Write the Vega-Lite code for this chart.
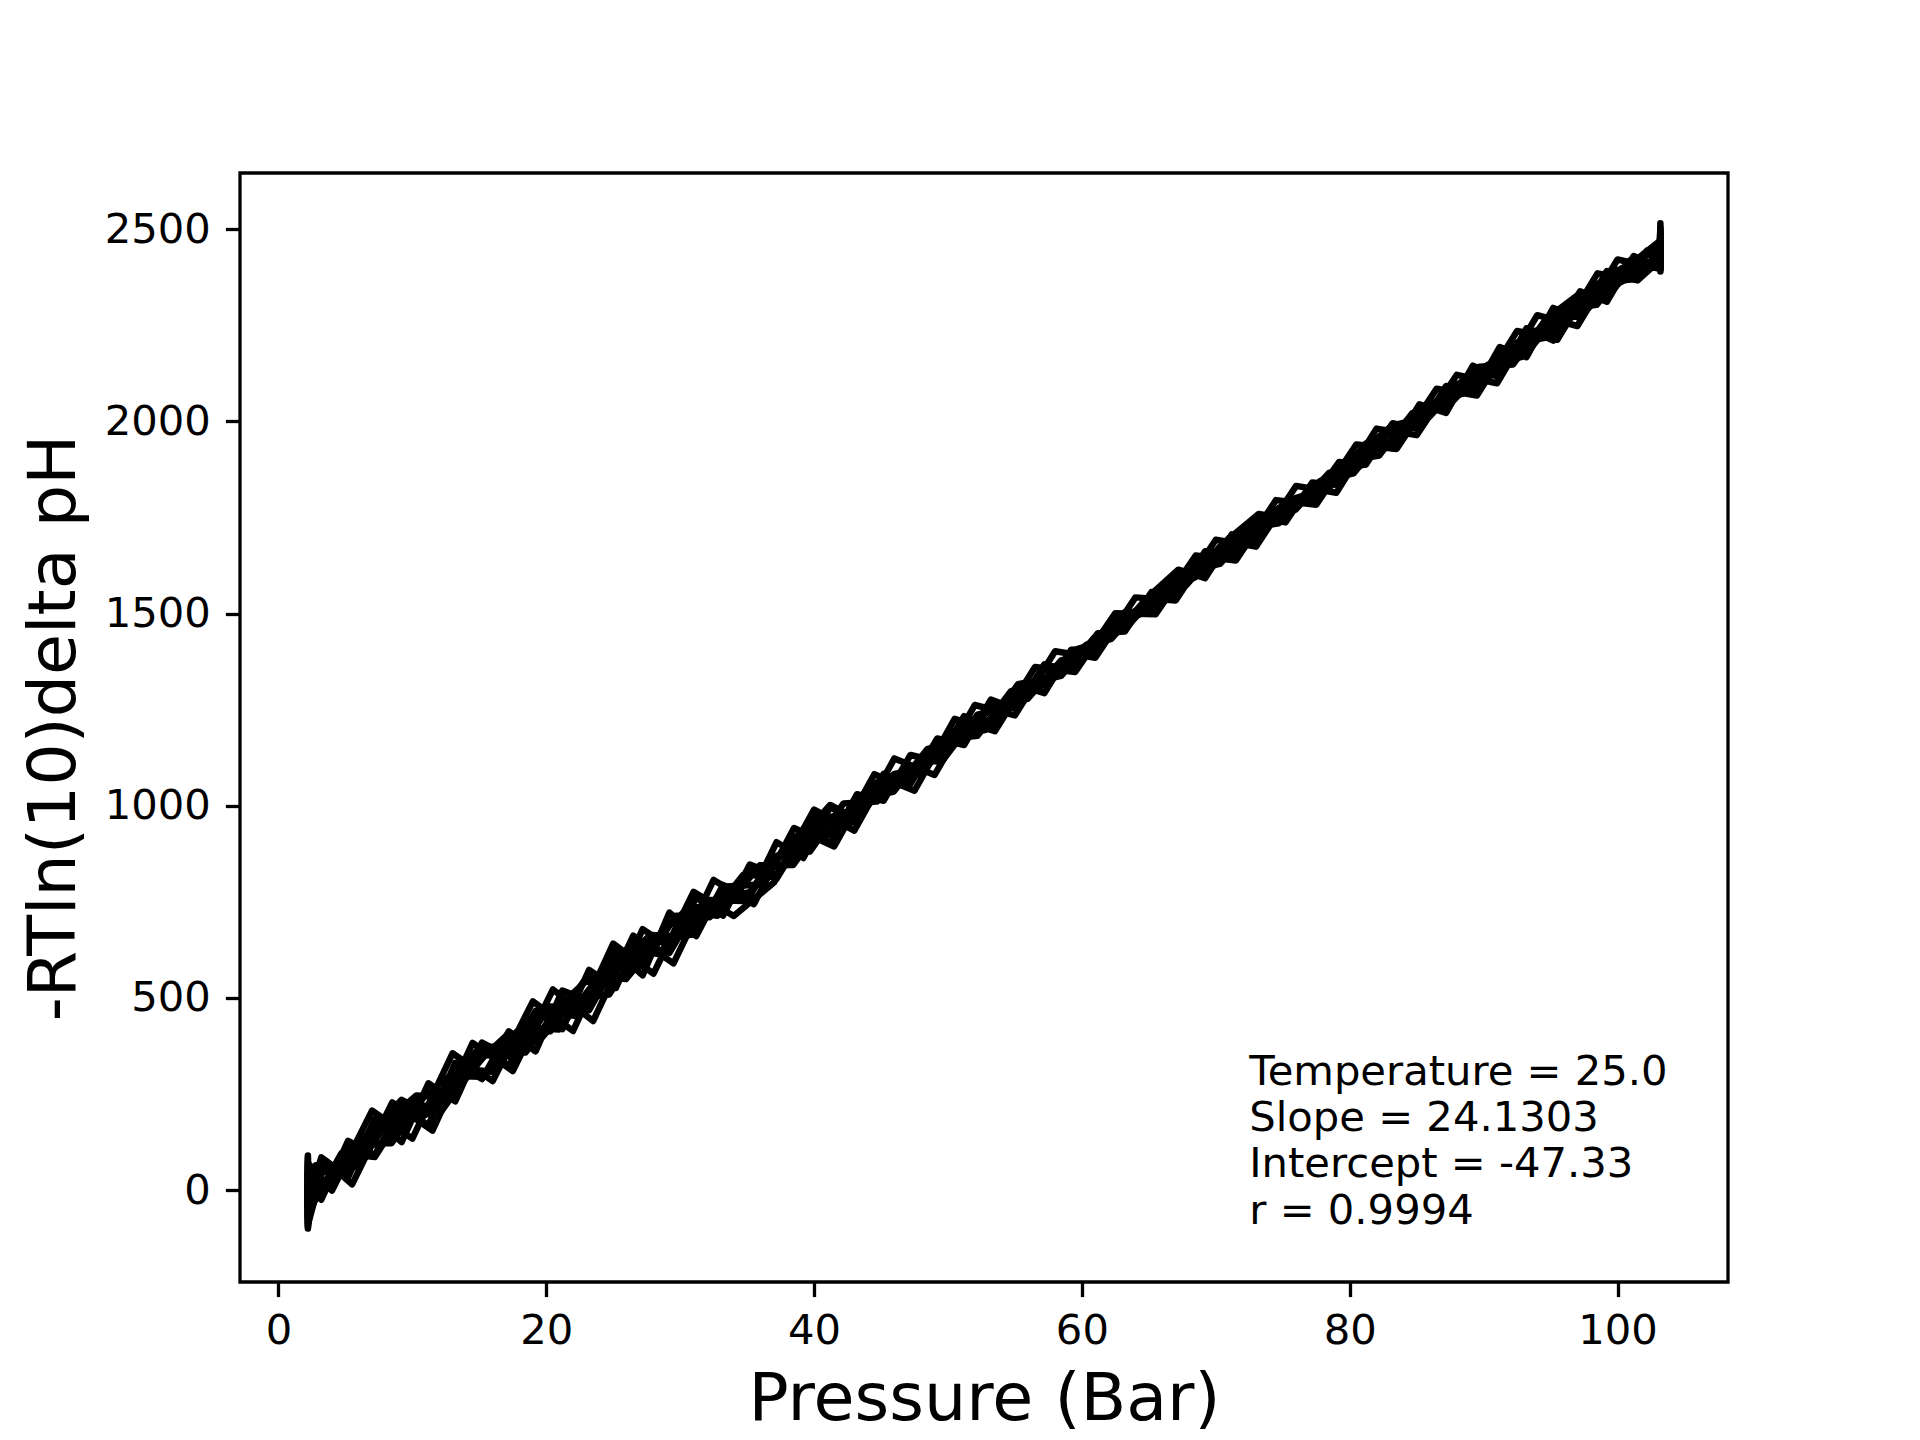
{
  "$schema": "https://vega.github.io/schema/vega-lite/v6.json",
  "autosize": "none",
  "width": 1488,
  "height": 1109,
  "padding": {"left": 240, "top": 173, "right": 192, "bottom": 158},
  "background": "white",
  "datasets": {
    "runs": [
      {"run": "A", "p": 2.2, "v": 85}, {"run": "A", "p": 2.2, "v": -60}, {"run": "A", "p": 4.7, "v": 96}, {"run": "A", "p": 7.2, "v": 86},
      {"run": "A", "p": 9.7, "v": 222}, {"run": "A", "p": 12.2, "v": 217}, {"run": "A", "p": 14.7, "v": 352}, {"run": "A", "p": 17.2, "v": 348},
      {"run": "A", "p": 19.7, "v": 468}, {"run": "A", "p": 22.2, "v": 453}, {"run": "A", "p": 24.7, "v": 579}, {"run": "A", "p": 27.2, "v": 584},
      {"run": "A", "p": 29.7, "v": 714}, {"run": "A", "p": 32.2, "v": 710}, {"run": "A", "p": 34.7, "v": 820}, {"run": "A", "p": 37.2, "v": 818},
      {"run": "A", "p": 39.7, "v": 951}, {"run": "A", "p": 42.2, "v": 956}, {"run": "A", "p": 44.7, "v": 1061}, {"run": "A", "p": 47.2, "v": 1067},
      {"run": "A", "p": 49.7, "v": 1172}, {"run": "A", "p": 52.2, "v": 1182}, {"run": "A", "p": 54.7, "v": 1298}, {"run": "A", "p": 57.2, "v": 1313},
      {"run": "A", "p": 59.7, "v": 1408}, {"run": "A", "p": 62.2, "v": 1434}, {"run": "A", "p": 64.7, "v": 1534}, {"run": "A", "p": 67.2, "v": 1559},
      {"run": "A", "p": 69.7, "v": 1660}, {"run": "A", "p": 72.2, "v": 1675}, {"run": "A", "p": 74.7, "v": 1770}, {"run": "A", "p": 77.2, "v": 1796},
      {"run": "A", "p": 79.7, "v": 1896}, {"run": "A", "p": 82.2, "v": 1911}, {"run": "A", "p": 84.7, "v": 2022}, {"run": "A", "p": 87.2, "v": 2037},
      {"run": "A", "p": 89.7, "v": 2142}, {"run": "A", "p": 92.2, "v": 2148}, {"run": "A", "p": 94.7, "v": 2268}, {"run": "A", "p": 97.2, "v": 2273},
      {"run": "A", "p": 99.7, "v": 2393}, {"run": "A", "p": 102.2, "v": 2399}, {"run": "A", "p": 103.2, "v": 2400}, {"run": "A", "p": 103.2, "v": 2505},

      {"run": "B", "p": 2.2, "v": -95}, {"run": "B", "p": 2.2, "v": 40}, {"run": "B", "p": 4.7, "v": 56}, {"run": "B", "p": 7.2, "v": 171},
      {"run": "B", "p": 9.7, "v": 197}, {"run": "B", "p": 12.2, "v": 207}, {"run": "B", "p": 14.7, "v": 327}, {"run": "B", "p": 17.2, "v": 408},
      {"run": "B", "p": 19.7, "v": 398}, {"run": "B", "p": 22.2, "v": 498}, {"run": "B", "p": 24.7, "v": 509}, {"run": "B", "p": 27.2, "v": 644},
      {"run": "B", "p": 29.7, "v": 659}, {"run": "B", "p": 32.2, "v": 755}, {"run": "B", "p": 34.7, "v": 752}, {"run": "B", "p": 37.2, "v": 870},
      {"run": "B", "p": 39.7, "v": 881}, {"run": "B", "p": 42.2, "v": 1006}, {"run": "B", "p": 44.7, "v": 1011}, {"run": "B", "p": 47.2, "v": 1102},
      {"run": "B", "p": 49.7, "v": 1122}, {"run": "B", "p": 52.2, "v": 1237}, {"run": "B", "p": 54.7, "v": 1258}, {"run": "B", "p": 57.2, "v": 1353},
      {"run": "B", "p": 59.7, "v": 1368}, {"run": "B", "p": 62.2, "v": 1464}, {"run": "B", "p": 64.7, "v": 1504}, {"run": "B", "p": 67.2, "v": 1604},
      {"run": "B", "p": 69.7, "v": 1620}, {"run": "B", "p": 72.2, "v": 1720}, {"run": "B", "p": 74.7, "v": 1735}, {"run": "B", "p": 77.2, "v": 1826},
      {"run": "B", "p": 79.7, "v": 1861}, {"run": "B", "p": 82.2, "v": 1956}, {"run": "B", "p": 84.7, "v": 1987}, {"run": "B", "p": 87.2, "v": 2072},
      {"run": "B", "p": 89.7, "v": 2092}, {"run": "B", "p": 92.2, "v": 2203}, {"run": "B", "p": 94.7, "v": 2218}, {"run": "B", "p": 97.2, "v": 2328},
      {"run": "B", "p": 99.7, "v": 2343}, {"run": "B", "p": 102.2, "v": 2444}, {"run": "B", "p": 103.2, "v": 2395}, {"run": "B", "p": 103.2, "v": 2470},

      {"run": "C", "p": 2.2, "v": 60}, {"run": "C", "p": 2.2, "v": -20}, {"run": "C", "p": 3.45, "v": -4}, {"run": "C", "p": 5.95, "v": 121},
      {"run": "C", "p": 8.45, "v": 122}, {"run": "C", "p": 10.95, "v": 247}, {"run": "C", "p": 13.45, "v": 267}, {"run": "C", "p": 15.95, "v": 373},
      {"run": "C", "p": 18.45, "v": 358}, {"run": "C", "p": 20.95, "v": 478}, {"run": "C", "p": 23.45, "v": 559}, {"run": "C", "p": 25.95, "v": 549},
      {"run": "C", "p": 28.45, "v": 654}, {"run": "C", "p": 30.95, "v": 665}, {"run": "C", "p": 33.45, "v": 790}, {"run": "C", "p": 35.95, "v": 795},
      {"run": "C", "p": 38.45, "v": 916}, {"run": "C", "p": 40.95, "v": 921}, {"run": "C", "p": 43.45, "v": 1016}, {"run": "C", "p": 45.95, "v": 1037},
      {"run": "C", "p": 48.45, "v": 1147}, {"run": "C", "p": 50.95, "v": 1172}, {"run": "C", "p": 53.45, "v": 1263}, {"run": "C", "p": 55.95, "v": 1278},
      {"run": "C", "p": 58.45, "v": 1378}, {"run": "C", "p": 60.95, "v": 1403}, {"run": "C", "p": 63.45, "v": 1499}, {"run": "C", "p": 65.95, "v": 1534},
      {"run": "C", "p": 68.45, "v": 1629}, {"run": "C", "p": 70.95, "v": 1645}, {"run": "C", "p": 73.45, "v": 1745}, {"run": "C", "p": 75.95, "v": 1770},
      {"run": "C", "p": 78.45, "v": 1866}, {"run": "C", "p": 80.95, "v": 1886}, {"run": "C", "p": 83.45, "v": 1991}, {"run": "C", "p": 85.95, "v": 2012},
      {"run": "C", "p": 88.45, "v": 2107}, {"run": "C", "p": 90.95, "v": 2122}, {"run": "C", "p": 93.45, "v": 2233}, {"run": "C", "p": 95.95, "v": 2248},
      {"run": "C", "p": 98.45, "v": 2358}, {"run": "C", "p": 100.95, "v": 2369}, {"run": "C", "p": 103.2, "v": 2420}, {"run": "C", "p": 103.2, "v": 2480},

      {"run": "D", "p": 2.2, "v": -75}, {"run": "D", "p": 2.2, "v": 25}, {"run": "D", "p": 3.45, "v": 56}, {"run": "D", "p": 5.95, "v": 61},
      {"run": "D", "p": 8.45, "v": 197}, {"run": "D", "p": 10.95, "v": 195}, {"run": "D", "p": 13.45, "v": 317}, {"run": "D", "p": 15.95, "v": 308},
      {"run": "D", "p": 18.45, "v": 423}, {"run": "D", "p": 20.95, "v": 418}, {"run": "D", "p": 23.45, "v": 534}, {"run": "D", "p": 25.95, "v": 624},
      {"run": "D", "p": 28.45, "v": 614}, {"run": "D", "p": 30.95, "v": 730}, {"run": "D", "p": 33.45, "v": 740}, {"run": "D", "p": 35.95, "v": 845},
      {"run": "D", "p": 38.45, "v": 846}, {"run": "D", "p": 40.95, "v": 971}, {"run": "D", "p": 43.45, "v": 976}, {"run": "D", "p": 45.95, "v": 1082},
      {"run": "D", "p": 48.45, "v": 1102}, {"run": "D", "p": 50.95, "v": 1212}, {"run": "D", "p": 53.45, "v": 1223}, {"run": "D", "p": 55.95, "v": 1318},
      {"run": "D", "p": 58.45, "v": 1338}, {"run": "D", "p": 60.95, "v": 1438}, {"run": "D", "p": 63.45, "v": 1469}, {"run": "D", "p": 65.95, "v": 1564},
      {"run": "D", "p": 68.45, "v": 1594}, {"run": "D", "p": 70.95, "v": 1695}, {"run": "D", "p": 73.45, "v": 1710}, {"run": "D", "p": 75.95, "v": 1800},
      {"run": "D", "p": 78.45, "v": 1826}, {"run": "D", "p": 80.95, "v": 1931}, {"run": "D", "p": 83.45, "v": 1946}, {"run": "D", "p": 85.95, "v": 2047},
      {"run": "D", "p": 88.45, "v": 2072}, {"run": "D", "p": 90.95, "v": 2167}, {"run": "D", "p": 93.45, "v": 2188}, {"run": "D", "p": 95.95, "v": 2293},
      {"run": "D", "p": 98.45, "v": 2303}, {"run": "D", "p": 100.95, "v": 2419}, {"run": "D", "p": 103.2, "v": 2410}, {"run": "D", "p": 103.2, "v": 2515},

      {"run": "E", "p": 2.2, "v": 20}, {"run": "E", "p": 2.2, "v": -100}, {"run": "E", "p": 2.8, "v": 65}, {"run": "E", "p": 5.3, "v": 61},
      {"run": "E", "p": 7.8, "v": 171}, {"run": "E", "p": 10.3, "v": 246}, {"run": "E", "p": 12.8, "v": 242}, {"run": "E", "p": 15.3, "v": 352},
      {"run": "E", "p": 17.8, "v": 357}, {"run": "E", "p": 20.3, "v": 478}, {"run": "E", "p": 22.8, "v": 473}, {"run": "E", "p": 25.3, "v": 588},
      {"run": "E", "p": 27.8, "v": 664}, {"run": "E", "p": 30.3, "v": 659}, {"run": "E", "p": 32.8, "v": 764}, {"run": "E", "p": 35.3, "v": 775},
      {"run": "E", "p": 37.8, "v": 890}, {"run": "E", "p": 40.3, "v": 975}, {"run": "E", "p": 42.8, "v": 956}, {"run": "E", "p": 45.3, "v": 1066},
      {"run": "E", "p": 47.8, "v": 1091}, {"run": "E", "p": 50.3, "v": 1186}, {"run": "E", "p": 52.8, "v": 1197}, {"run": "E", "p": 55.3, "v": 1302},
      {"run": "E", "p": 57.8, "v": 1337}, {"run": "E", "p": 60.3, "v": 1418}, {"run": "E", "p": 62.8, "v": 1453}, {"run": "E", "p": 65.3, "v": 1548},
      {"run": "E", "p": 67.8, "v": 1574}, {"run": "E", "p": 70.3, "v": 1674}, {"run": "E", "p": 72.8, "v": 1739}, {"run": "E", "p": 75.3, "v": 1755},
      {"run": "E", "p": 77.8, "v": 1845}, {"run": "E", "p": 80.3, "v": 1865}, {"run": "E", "p": 82.8, "v": 1971}, {"run": "E", "p": 85.3, "v": 1991},
      {"run": "E", "p": 87.8, "v": 2096}, {"run": "E", "p": 90.3, "v": 2112}, {"run": "E", "p": 92.8, "v": 2212}, {"run": "E", "p": 95.3, "v": 2232},
      {"run": "E", "p": 97.8, "v": 2338}, {"run": "E", "p": 100.3, "v": 2363}, {"run": "E", "p": 103.2, "v": 2430}, {"run": "E", "p": 103.2, "v": 2390},

      {"run": "F", "p": 2.2, "v": 50}, {"run": "F", "p": 2.2, "v": -45}, {"run": "F", "p": 2.8, "v": -15}, {"run": "F", "p": 5.3, "v": 111},
      {"run": "F", "p": 7.8, "v": 121}, {"run": "F", "p": 10.3, "v": 226}, {"run": "F", "p": 12.8, "v": 297}, {"run": "F", "p": 15.3, "v": 295},
      {"run": "F", "p": 17.8, "v": 412}, {"run": "F", "p": 20.3, "v": 413}, {"run": "F", "p": 22.8, "v": 543}, {"run": "F", "p": 25.3, "v": 541},
      {"run": "F", "p": 27.8, "v": 644}, {"run": "F", "p": 30.3, "v": 724}, {"run": "F", "p": 32.8, "v": 714}, {"run": "F", "p": 35.3, "v": 830},
      {"run": "F", "p": 37.8, "v": 845}, {"run": "F", "p": 40.3, "v": 945}, {"run": "F", "p": 42.8, "v": 966}, {"run": "F", "p": 45.3, "v": 1076},
      {"run": "F", "p": 47.8, "v": 1081}, {"run": "F", "p": 50.3, "v": 1191}, {"run": "F", "p": 52.8, "v": 1212}, {"run": "F", "p": 55.3, "v": 1317},
      {"run": "F", "p": 57.8, "v": 1332}, {"run": "F", "p": 60.3, "v": 1393}, {"run": "F", "p": 62.8, "v": 1488}, {"run": "F", "p": 65.3, "v": 1513},
      {"run": "F", "p": 67.8, "v": 1609}, {"run": "F", "p": 70.3, "v": 1629}, {"run": "F", "p": 72.8, "v": 1724}, {"run": "F", "p": 75.3, "v": 1790},
      {"run": "F", "p": 77.8, "v": 1810}, {"run": "F", "p": 80.3, "v": 1910}, {"run": "F", "p": 82.8, "v": 1936}, {"run": "F", "p": 85.3, "v": 2036},
      {"run": "F", "p": 87.8, "v": 2056}, {"run": "F", "p": 90.3, "v": 2147}, {"run": "F", "p": 92.8, "v": 2167}, {"run": "F", "p": 95.3, "v": 2277},
      {"run": "F", "p": 97.8, "v": 2293}, {"run": "F", "p": 100.3, "v": 2398}, {"run": "F", "p": 103.2, "v": 2450}, {"run": "F", "p": 103.2, "v": 2400},

      {"run": "G", "p": 2.2, "v": 90}, {"run": "G", "p": 2.2, "v": -30}, {"run": "G", "p": 3.2, "v": 85}, {"run": "G", "p": 5.2, "v": 33},
      {"run": "G", "p": 7.2, "v": 186}, {"run": "G", "p": 9.2, "v": 125}, {"run": "G", "p": 11.2, "v": 278}, {"run": "G", "p": 13.2, "v": 231},
      {"run": "G", "p": 15.2, "v": 384}, {"run": "G", "p": 17.2, "v": 348}, {"run": "G", "p": 19.2, "v": 466}, {"run": "G", "p": 21.2, "v": 419},
      {"run": "G", "p": 23.2, "v": 573}, {"run": "G", "p": 25.2, "v": 526}, {"run": "G", "p": 27.2, "v": 679}, {"run": "G", "p": 29.2, "v": 632},
      {"run": "G", "p": 31.2, "v": 761}, {"run": "G", "p": 33.2, "v": 714}, {"run": "G", "p": 35.2, "v": 847}, {"run": "G", "p": 37.2, "v": 820},
      {"run": "G", "p": 39.2, "v": 939}, {"run": "G", "p": 41.2, "v": 902}, {"run": "G", "p": 43.2, "v": 1030}, {"run": "G", "p": 45.2, "v": 1013},
      {"run": "G", "p": 47.2, "v": 1132}, {"run": "G", "p": 49.2, "v": 1115}, {"run": "G", "p": 51.2, "v": 1233}, {"run": "G", "p": 53.2, "v": 1201},
      {"run": "G", "p": 55.2, "v": 1315}, {"run": "G", "p": 57.2, "v": 1293}, {"run": "G", "p": 59.2, "v": 1406}, {"run": "G", "p": 61.2, "v": 1409},
      {"run": "G", "p": 63.2, "v": 1503}, {"run": "G", "p": 65.2, "v": 1501}, {"run": "G", "p": 67.2, "v": 1604}, {"run": "G", "p": 69.2, "v": 1602},
      {"run": "G", "p": 71.2, "v": 1706}, {"run": "G", "p": 73.2, "v": 1689}, {"run": "G", "p": 75.2, "v": 1792}, {"run": "G", "p": 77.2, "v": 1796},
      {"run": "G", "p": 79.2, "v": 1894}, {"run": "G", "p": 81.2, "v": 1887}, {"run": "G", "p": 83.2, "v": 1995}, {"run": "G", "p": 85.2, "v": 1979},
      {"run": "G", "p": 87.2, "v": 2092}, {"run": "G", "p": 89.2, "v": 2070}, {"run": "G", "p": 91.2, "v": 2193}, {"run": "G", "p": 93.2, "v": 2167},
      {"run": "G", "p": 95.2, "v": 2295}, {"run": "G", "p": 97.2, "v": 2268}, {"run": "G", "p": 99.2, "v": 2391}, {"run": "G", "p": 101.2, "v": 2370},
      {"run": "G", "p": 103.2, "v": 2440}, {"run": "G", "p": 103.2, "v": 2490},

      {"run": "H", "p": 2.2, "v": -85}, {"run": "H", "p": 2.2, "v": 10}, {"run": "H", "p": 3.2, "v": -25}, {"run": "H", "p": 5.2, "v": 128},
      {"run": "H", "p": 7.2, "v": 91}, {"run": "H", "p": 9.2, "v": 220}, {"run": "H", "p": 11.2, "v": 168}, {"run": "H", "p": 13.2, "v": 331},
      {"run": "H", "p": 15.2, "v": 289}, {"run": "H", "p": 17.2, "v": 413}, {"run": "H", "p": 19.2, "v": 361}, {"run": "H", "p": 21.2, "v": 519},
      {"run": "H", "p": 23.2, "v": 493}, {"run": "H", "p": 25.2, "v": 621}, {"run": "H", "p": 27.2, "v": 559}, {"run": "H", "p": 29.2, "v": 722},
      {"run": "H", "p": 31.2, "v": 661}, {"run": "H", "p": 33.2, "v": 794}, {"run": "H", "p": 35.2, "v": 762}, {"run": "H", "p": 37.2, "v": 905},
      {"run": "H", "p": 39.2, "v": 864}, {"run": "H", "p": 41.2, "v": 997}, {"run": "H", "p": 43.2, "v": 955}, {"run": "H", "p": 45.2, "v": 1083},
      {"run": "H", "p": 47.2, "v": 1057}, {"run": "H", "p": 49.2, "v": 1175}, {"run": "H", "p": 51.2, "v": 1158}, {"run": "H", "p": 53.2, "v": 1276},
      {"run": "H", "p": 55.2, "v": 1250}, {"run": "H", "p": 57.2, "v": 1358}, {"run": "H", "p": 59.2, "v": 1361}, {"run": "H", "p": 61.2, "v": 1449},
      {"run": "H", "p": 63.2, "v": 1453}, {"run": "H", "p": 65.2, "v": 1556}, {"run": "H", "p": 67.2, "v": 1549}, {"run": "H", "p": 69.2, "v": 1662},
      {"run": "H", "p": 71.2, "v": 1646}, {"run": "H", "p": 73.2, "v": 1749}, {"run": "H", "p": 75.2, "v": 1737}, {"run": "H", "p": 77.2, "v": 1841},
      {"run": "H", "p": 79.2, "v": 1834}, {"run": "H", "p": 81.2, "v": 1942}, {"run": "H", "p": 83.2, "v": 1930}, {"run": "H", "p": 85.2, "v": 2044},
      {"run": "H", "p": 87.2, "v": 2022}, {"run": "H", "p": 89.2, "v": 2145}, {"run": "H", "p": 91.2, "v": 2113}, {"run": "H", "p": 93.2, "v": 2242},
      {"run": "H", "p": 95.2, "v": 2210}, {"run": "H", "p": 97.2, "v": 2338}, {"run": "H", "p": 99.2, "v": 2311}, {"run": "H", "p": 101.2, "v": 2430},
      {"run": "H", "p": 103.2, "v": 2400}, {"run": "H", "p": 103.2, "v": 2460},

      {"run": "I", "p": 2.2, "v": 40}, {"run": "I", "p": 2.2, "v": -70}, {"run": "I", "p": 3.2, "v": 50}, {"run": "I", "p": 5.2, "v": 48},
      {"run": "I", "p": 7.2, "v": 161}, {"run": "I", "p": 9.2, "v": 235}, {"run": "I", "p": 11.2, "v": 198}, {"run": "I", "p": 13.2, "v": 296},
      {"run": "I", "p": 15.2, "v": 379}, {"run": "I", "p": 17.2, "v": 323}, {"run": "I", "p": 19.2, "v": 446}, {"run": "I", "p": 21.2, "v": 484},
      {"run": "I", "p": 23.2, "v": 468}, {"run": "I", "p": 25.2, "v": 591}, {"run": "I", "p": 27.2, "v": 639}, {"run": "I", "p": 29.2, "v": 617},
      {"run": "I", "p": 31.2, "v": 736}, {"run": "I", "p": 33.2, "v": 739}, {"run": "I", "p": 35.2, "v": 832}, {"run": "I", "p": 37.2, "v": 810},
      {"run": "I", "p": 39.2, "v": 924}, {"run": "I", "p": 41.2, "v": 1002}, {"run": "I", "p": 43.2, "v": 965}, {"run": "I", "p": 45.2, "v": 1063},
      {"run": "I", "p": 47.2, "v": 1072}, {"run": "I", "p": 49.2, "v": 1165}, {"run": "I", "p": 51.2, "v": 1163}, {"run": "I", "p": 53.2, "v": 1261},
      {"run": "I", "p": 55.2, "v": 1255}, {"run": "I", "p": 57.2, "v": 1368}, {"run": "I", "p": 59.2, "v": 1351}, {"run": "I", "p": 61.2, "v": 1444},
      {"run": "I", "p": 63.2, "v": 1458}, {"run": "I", "p": 65.2, "v": 1551}, {"run": "I", "p": 67.2, "v": 1614}, {"run": "I", "p": 69.2, "v": 1592},
      {"run": "I", "p": 71.2, "v": 1701}, {"run": "I", "p": 73.2, "v": 1759}, {"run": "I", "p": 75.2, "v": 1747}, {"run": "I", "p": 77.2, "v": 1836},
      {"run": "I", "p": 79.2, "v": 1839}, {"run": "I", "p": 81.2, "v": 1932}, {"run": "I", "p": 83.2, "v": 1990}, {"run": "I", "p": 85.2, "v": 1989},
      {"run": "I", "p": 87.2, "v": 2082}, {"run": "I", "p": 89.2, "v": 2080}, {"run": "I", "p": 91.2, "v": 2178}, {"run": "I", "p": 93.2, "v": 2172},
      {"run": "I", "p": 95.2, "v": 2280}, {"run": "I", "p": 97.2, "v": 2333}, {"run": "I", "p": 99.2, "v": 2321}, {"run": "I", "p": 101.2, "v": 2415},
      {"run": "I", "p": 103.2, "v": 2470}, {"run": "I", "p": 103.2, "v": 2395},

      {"run": "J", "p": 2.2, "v": -40}, {"run": "J", "p": 2.2, "v": 70}, {"run": "J", "p": 4, "v": -1}, {"run": "J", "p": 7, "v": 207},
      {"run": "J", "p": 10, "v": 134}, {"run": "J", "p": 13, "v": 356}, {"run": "J", "p": 16, "v": 284}, {"run": "J", "p": 19, "v": 491},
      {"run": "J", "p": 22, "v": 414}, {"run": "J", "p": 25, "v": 641}, {"run": "J", "p": 28, "v": 563}, {"run": "J", "p": 31, "v": 776},
      {"run": "J", "p": 34, "v": 713}, {"run": "J", "p": 37, "v": 800}, {"run": "J", "p": 40, "v": 990}, {"run": "J", "p": 43, "v": 935},
      {"run": "J", "p": 46, "v": 1123}, {"run": "J", "p": 49, "v": 1080}, {"run": "J", "p": 52, "v": 1262}, {"run": "J", "p": 55, "v": 1235},
      {"run": "J", "p": 58, "v": 1402}, {"run": "J", "p": 61, "v": 1385}, {"run": "J", "p": 64, "v": 1542}, {"run": "J", "p": 67, "v": 1534},
      {"run": "J", "p": 70, "v": 1692}, {"run": "J", "p": 73, "v": 1674}, {"run": "J", "p": 76, "v": 1832}, {"run": "J", "p": 79, "v": 1814},
      {"run": "J", "p": 82, "v": 1981}, {"run": "J", "p": 85, "v": 1964}, {"run": "J", "p": 88, "v": 2121}, {"run": "J", "p": 91, "v": 2099},
      {"run": "J", "p": 94, "v": 2276}, {"run": "J", "p": 97, "v": 2248}, {"run": "J", "p": 100, "v": 2421}, {"run": "J", "p": 103, "v": 2398},
      {"run": "J", "p": 103.2, "v": 2500},

      {"run": "K", "p": 2.2, "v": 75}, {"run": "K", "p": 2.2, "v": -90}, {"run": "K", "p": 3.5, "v": 77}, {"run": "K", "p": 5.5, "v": 15},
      {"run": "K", "p": 8.5, "v": 228}, {"run": "K", "p": 11.5, "v": 155}, {"run": "K", "p": 14.5, "v": 383}, {"run": "K", "p": 17.5, "v": 310},
      {"run": "K", "p": 20.5, "v": 522}, {"run": "K", "p": 23.5, "v": 440}, {"run": "K", "p": 26.5, "v": 662}, {"run": "K", "p": 29.5, "v": 590},
      {"run": "K", "p": 32.5, "v": 807}, {"run": "K", "p": 35.5, "v": 744}, {"run": "K", "p": 38.5, "v": 942}, {"run": "K", "p": 41.5, "v": 894},
      {"run": "K", "p": 44.5, "v": 1082}, {"run": "K", "p": 47.5, "v": 1039}, {"run": "K", "p": 50.5, "v": 1226}, {"run": "K", "p": 53.5, "v": 1194},
      {"run": "K", "p": 56.5, "v": 1361}, {"run": "K", "p": 59.5, "v": 1348}, {"run": "K", "p": 62.5, "v": 1501}, {"run": "K", "p": 65.5, "v": 1498},
      {"run": "K", "p": 68.5, "v": 1651}, {"run": "K", "p": 71.5, "v": 1638}, {"run": "K", "p": 74.5, "v": 1795}, {"run": "K", "p": 77.5, "v": 1783},
      {"run": "K", "p": 80.5, "v": 1940}, {"run": "K", "p": 83.5, "v": 1928}, {"run": "K", "p": 86.5, "v": 2085}, {"run": "K", "p": 89.5, "v": 2067},
      {"run": "K", "p": 92.5, "v": 2235}, {"run": "K", "p": 95.5, "v": 2212}, {"run": "K", "p": 98.5, "v": 2385}, {"run": "K", "p": 101.5, "v": 2367},
      {"run": "K", "p": 103.2, "v": 2420}, {"run": "K", "p": 103.2, "v": 2485}
    ],
    "notes": [
      {"label": "Temperature = 25.0", "p": 72.5, "v": 273},
      {"label": "Slope = 24.1303", "p": 72.5, "v": 153},
      {"label": "Intercept = -47.33", "p": 72.5, "v": 33},
      {"label": "r = 0.9994", "p": 72.5, "v": -87}
    ]
  },
  "encoding": {
    "x": {
      "field": "p",
      "type": "quantitative",
      "scale": {"domain": [-2.87, 108.25], "nice": false, "zero": false},
      "axis": {
        "title": "Pressure (Bar)",
        "values": [0, 20, 40, 60, 80, 100],
        "format": "d",
        "titlePadding": 14,
        "labelPadding": 14
      }
    },
    "y": {
      "field": "v",
      "type": "quantitative",
      "scale": {"domain": [-239, 2646], "nice": false, "zero": false},
      "axis": {
        "title": "-RTln(10)delta pH",
        "values": [0, 500, 1000, 1500, 2000, 2500],
        "format": "d",
        "titlePadding": 16,
        "labelPadding": 15
      }
    }
  },
  "layer": [
    {
      "data": {"name": "runs"},
      "mark": {"type": "line", "color": "#000000", "strokeWidth": 6.5, "strokeJoin": "round", "strokeCap": "round"},
      "encoding": {
        "detail": {"field": "run", "type": "nominal"},
        "order": {"value": null}
      }
    },
    {
      "data": {"name": "notes"},
      "mark": {"type": "text", "align": "left", "baseline": "alphabetic", "font": "DejaVu Sans", "fontSize": 41.7, "color": "#000000"},
      "encoding": {
        "text": {"field": "label", "type": "nominal"}
      }
    }
  ],
  "config": {
    "view": {"stroke": "#000000", "strokeWidth": 3.3},
    "axis": {
      "grid": false,
      "domain": false,
      "ticks": true,
      "tickSize": 14.6,
      "tickWidth": 3.3,
      "tickColor": "#000000",
      "labelFont": "DejaVu Sans",
      "labelFontSize": 41.7,
      "labelColor": "#000000",
      "titleFont": "DejaVu Sans",
      "titleFontSize": 66.7,
      "titleFontWeight": "normal",
      "titleColor": "#000000"
    }
  }
}
